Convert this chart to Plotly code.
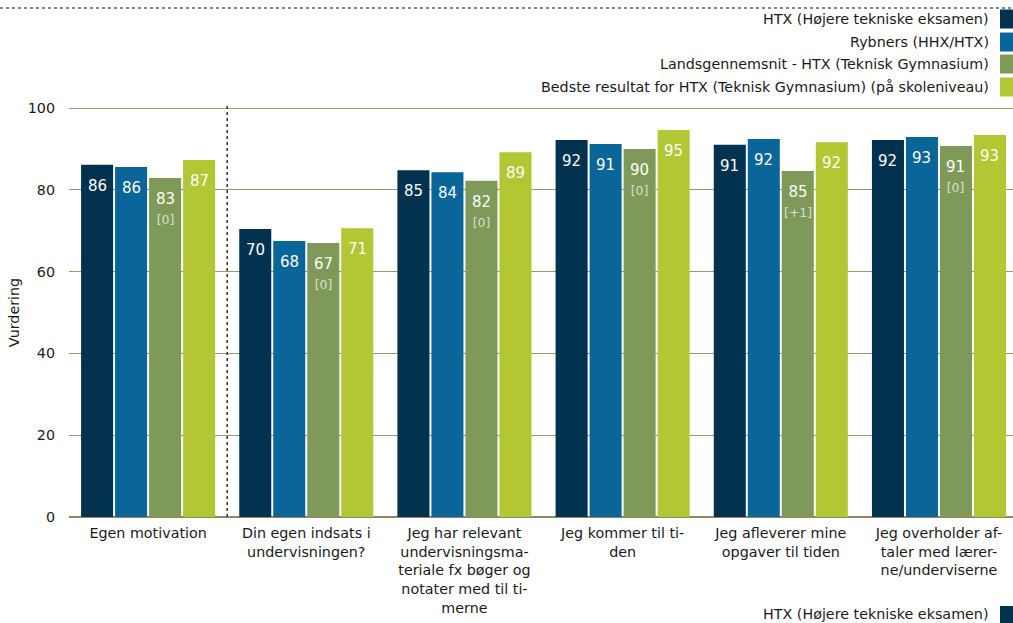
import plotly.graph_objects as go

# --- data -----------------------------------------------------------------
categories = [
    "Egen motivation",
    "Din egen indsats i<br>undervisningen?",
    "Jeg har relevant<br>undervisningsma-<br>teriale fx bøger og<br>notater med til ti-<br>merne",
    "Jeg kommer til ti-<br>den",
    "Jeg afleverer mine<br>opgaver til tiden",
    "Jeg overholder af-<br>taler med lærer-<br>ne/underviserne",
]
series_names = [
    "HTX (Højere tekniske eksamen)",
    "Rybners (HHX/HTX)",
    "Landsgennemsnit - HTX (Teknisk Gymnasium)",
    "Bedste resultat for HTX (Teknisk Gymnasium) (på skoleniveau)",
]
htx = [86.1, 70.4, 84.8, 92.2, 91.0, 92.2]
rybners = [85.6, 67.5, 84.3, 91.2, 92.4, 92.9]
landsgennemsnit = [82.9, 67.0, 82.2, 90.0, 84.6, 90.7]
bedste = [87.3, 70.6, 89.2, 94.6, 91.6, 93.4]
lands_change = ["[0]", "[0]", "[0]", "[0]", "[+1]", "[0]"]
y_ticks = [0, 20, 40, 60, 80, 100]

colors = ["#02324f", "#0a6598", "#7f9a58", "#b3c634"]
FONT = "DejaVu Sans"
TXT = "#1a1a1a"

# page geometry (pixels)
W, H = 1013, 623
ML, MR, MT, MB = 69, 0, 108, 106
PW, PH = W - ML - MR, H - MT - MB


def px_x(p):
    return (p - ML) / PW


def px_y(p):
    return (H - MB - p) / PH


SLOT = 0.215      # category units per bar slot
BAR_W = 0.2025    # bar width in category units

x = list(range(len(categories)))
all_values = [htx, rybners, landsgennemsnit, bedste]
fig = go.Figure()
for i, (name, vals) in enumerate(zip(series_names, all_values)):
    off = (i - 1.5) * SLOT
    fig.add_trace(go.Bar(
        x=x, y=vals, name=name, offset=off - BAR_W / 2, width=BAR_W,
        marker=dict(color=colors[i], line=dict(width=0)),
        showlegend=False, hoverinfo="skip",
    ))
    for xi, v, ch in zip(x, vals, lands_change):
        label = f"{v:.0f}"
        if i == 2:
            label += f"<br><span style='font-size:12.5px;color:#dcdcd2'>{ch}</span>"
        fig.add_annotation(x=xi + off, y=v, xref="x", yref="y", text=label,
                           showarrow=False, yanchor="top", yshift=-10,
                           font=dict(family=FONT, size=15, color="white"))

fig.update_layout(
    width=W, height=H,
    paper_bgcolor="white", plot_bgcolor="white",
    margin=dict(l=ML, r=MR, t=MT, b=MB, autoexpand=False),
    font=dict(family=FONT, size=14, color=TXT),
    barmode="overlay",
)
fig.update_xaxes(
    range=[-0.5, 5.468], tickvals=x, ticktext=categories, automargin=False,
    showgrid=False, zeroline=False, showline=False, ticks="",
    ticklabelstandoff=6,
    tickfont=dict(family=FONT, size=14.3, color=TXT),
)
fig.update_yaxes(
    range=[0, 100], tickvals=y_ticks, showgrid=True, gridcolor="#a3956a",
    gridwidth=1.3, zeroline=True, zerolinecolor="#968660", zerolinewidth=1.5,
    ticks="", ticklabelstandoff=13, automargin=False,
    tickfont=dict(family=FONT, size=14.3, color=TXT),
    title=dict(text="Vurdering", font=dict(family=FONT, size=14.3, color=TXT), standoff=4),
)

# darker top gridline
fig.add_shape(type="line", xref="paper", yref="y", x0=0, x1=1, y0=100, y1=100,
              line=dict(color="#85743a", width=1.5), layer="below")
# dotted separator after the first group
fig.add_shape(type="line", xref="x", yref="paper", x0=0.5, x1=0.5, y0=0, y1=px_y(104),
              line=dict(color="#333333", width=1.5, dash="dot"))
# dotted rule along the top of the page
fig.add_shape(type="line", xref="paper", yref="paper", x0=px_x(0), x1=px_x(W),
              y0=px_y(8), y1=px_y(8), line=dict(color="#7d8a8a", width=2, dash="dot"))

# legend: text right-aligned, colour square on the right
row_px = [19, 42, 64, 87]
for name, col, py in zip(series_names, colors, row_px):
    fig.add_annotation(xref="paper", yref="paper", x=px_x(991), y=px_y(py),
                       xanchor="right", yanchor="middle", text=name, showarrow=False,
                       font=dict(family=FONT, size=14.3, color=TXT))
    fig.add_shape(type="rect", xref="paper", yref="paper",
                  x0=px_x(1000), x1=px_x(W + 2), y0=px_y(py - 9.5), y1=px_y(py + 9.5),
                  fillcolor=col, line=dict(width=0))

# start of the next legend block, cut off by the bottom edge
fig.add_annotation(xref="paper", yref="paper", x=px_x(991), y=px_y(614),
                   xanchor="right", yanchor="middle", text=series_names[0],
                   showarrow=False, font=dict(family=FONT, size=14.3, color=TXT))
fig.add_shape(type="rect", xref="paper", yref="paper",
              x0=px_x(1000), x1=px_x(W + 2), y0=px_y(606), y1=px_y(H + 2),
              fillcolor=colors[0], line=dict(width=0))

# the page body has a default 8px margin; remove it so the chart fills the window
fig.write_html("out.html", config={"displayModeBar": False},
               post_script="document.body.style.margin='0';document.body.style.overflow='hidden';")
